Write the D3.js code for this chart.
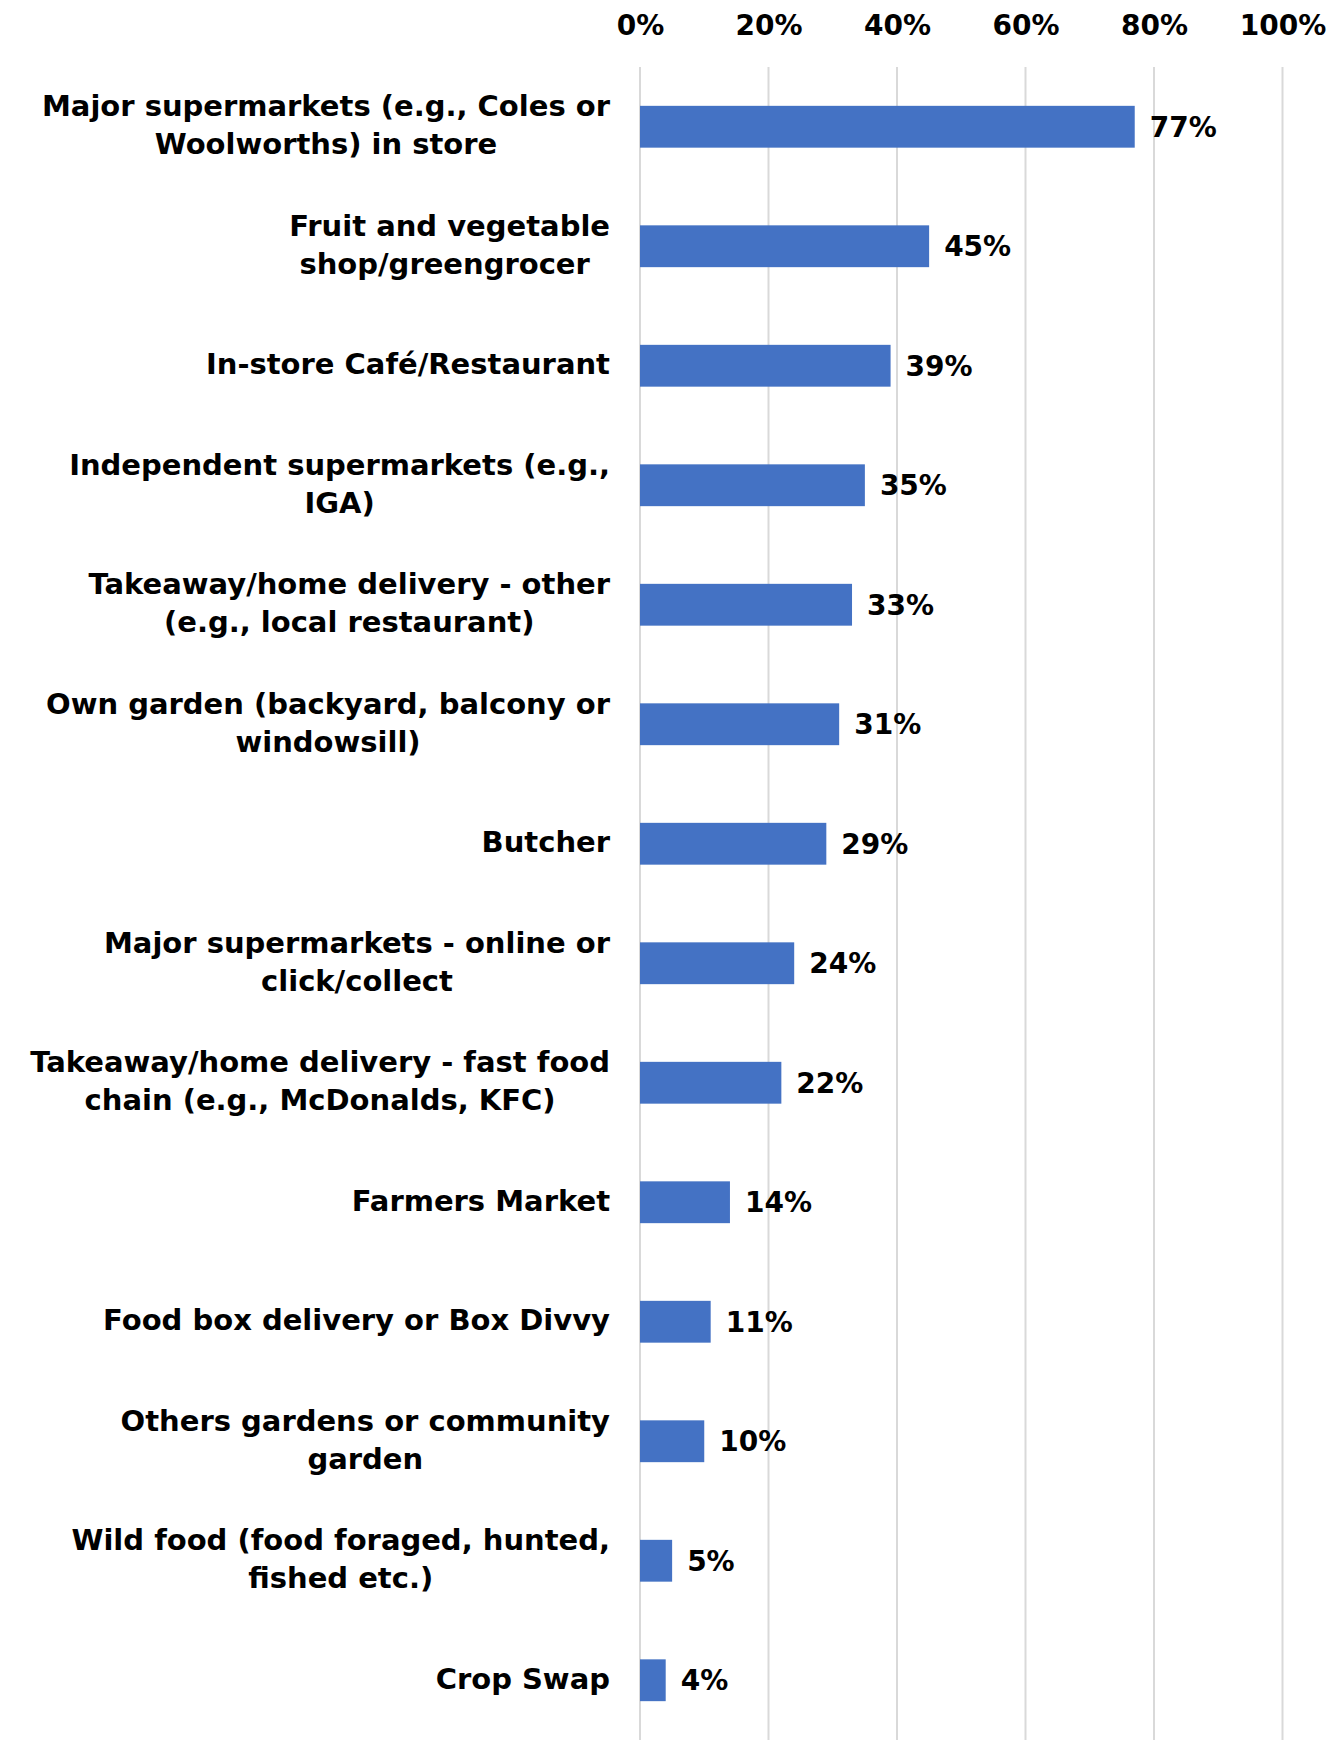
<!DOCTYPE html>
<html>
<head>
<meta charset="utf-8">
<script src="https://cdn.jsdelivr.net/npm/d3@7"></script>
<style>
  body { margin: 0; background: #fff; }
  svg { display: block; }
</style>
</head>
<body>
<svg id="chart"></svg>
<script>
// Chart data
const categories = [
  "Major supermarkets (e.g., Coles or\nWoolworths) in store",
  "Fruit and vegetable\nshop/greengrocer ",
  "In-store Café/Restaurant",
  "Independent supermarkets (e.g.,\nIGA)",
  "Takeaway/home delivery - other\n(e.g., local restaurant)",
  "Own garden (backyard, balcony or\nwindowsill)",
  "Butcher",
  "Major supermarkets - online or\nclick/collect",
  "Takeaway/home delivery - fast food\nchain (e.g., McDonalds, KFC)",
  "Farmers Market",
  "Food box delivery or Box Divvy",
  "Others gardens or community\ngarden",
  "Wild food (food foraged, hunted,\nfished etc.)",
  "Crop Swap"
];
const values = [0.77, 0.45, 0.39, 0.35, 0.33, 0.31, 0.29, 0.24, 0.22, 0.14, 0.11, 0.10, 0.05, 0.04];
const tickValues = [0, 0.2, 0.4, 0.6, 0.8, 1.0];

const width = 1338, height = 1740;
const font = "'DejaVu Sans', sans-serif";

const svg = d3.select('#chart')
  .attr('width', width)
  .attr('height', height);

const x = d3.scaleLinear()
  .domain([0, 1])
  .range([640, 1282.5]);

const y = d3.scaleBand()
  .domain(categories)
  .range([67, 1740])
  .paddingInner(0.65)
  .paddingOuter(0.325);

// Gridlines
svg.selectAll('.grid')
  .data(tickValues)
  .enter()
  .append('line')
  .attr('class', 'grid')
  .attr('x1', d => x(d))
  .attr('x2', d => x(d))
  .attr('y1', 67)
  .attr('y2', height)
  .attr('stroke', '#d9d9d9')
  .attr('stroke-width', 2);

// Top axis labels
const axis = d3.axisTop(x)
  .tickValues(tickValues)
  .tickFormat(d3.format('.0%'))
  .tickSize(0)
  .tickPadding(0);

const axisG = svg.append('g')
  .attr('transform', 'translate(0,35)')
  .call(axis);
axisG.select('.domain').remove();
axisG.selectAll('text')
  .attr('font-family', font)
  .attr('font-weight', 'bold')
  .attr('font-size', '28px')
  .attr('fill', '#000');

// Bars
svg.selectAll('.bar')
  .data(values)
  .enter()
  .append('rect')
  .attr('class', 'bar')
  .attr('x', x(0))
  .attr('y', (d, i) => y(categories[i]))
  .attr('width', d => x(d) - x(0))
  .attr('height', y.bandwidth())
  .attr('fill', '#4472C4');

// Value labels
svg.selectAll('.value')
  .data(values)
  .enter()
  .append('text')
  .attr('class', 'value')
  .attr('x', d => x(d) + 15)
  .attr('y', (d, i) => y(categories[i]) + y.bandwidth() / 2)
  .attr('dy', '0.36em')
  .attr('font-family', font)
  .attr('font-weight', 'bold')
  .attr('font-size', '28px')
  .text(d => d3.format('.0%')(d));

// Category labels (right aligned, multi-line)
const lineHeight = 38;
const labels = svg.selectAll('.label')
  .data(categories)
  .enter()
  .append('text')
  .attr('class', 'label')
  .attr('text-anchor', 'end')
  .attr('font-family', font)
  .attr('font-weight', 'bold')
  .attr('font-size', '29px')
  .attr('transform', d => `translate(610,${y(d) + y.bandwidth() / 2})`);

labels.each(function (d) {
  const lines = d.split('\n');
  const t = d3.select(this);
  lines.forEach((line, j) => {
    t.append('tspan')
      .attr('x', 0)
      .attr('y', (j - (lines.length - 1) / 2) * lineHeight)
      .attr('dy', '0.3em')
      .attr('xml:space', 'preserve')
      .text(line);
  });
});

// Multi-line labels are centred on their widest line, which sits flush right
labels.each(function (d) {
  const spans = d3.select(this).selectAll('tspan');
  if (spans.size() < 2) return;
  let maxW = 0;
  spans.each(function () { maxW = Math.max(maxW, this.getComputedTextLength()); });
  spans.attr('text-anchor', 'middle').attr('x', -maxW / 2);
});
</script>
</body>
</html>
